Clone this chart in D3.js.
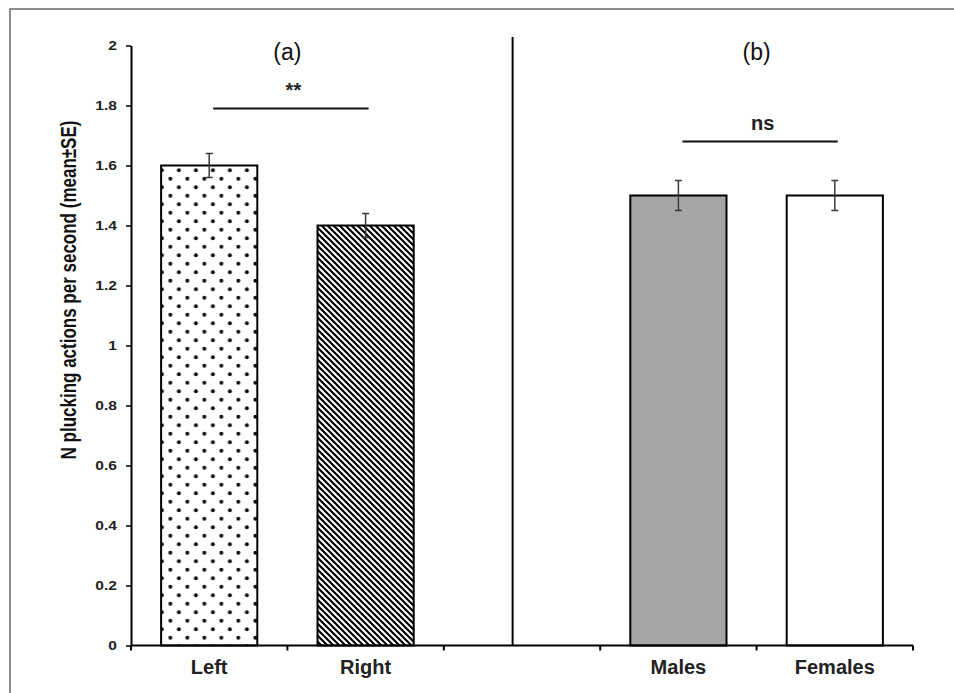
<!DOCTYPE html>
<html>
<head>
<meta charset="utf-8">
<script src="https://cdn.jsdelivr.net/npm/d3@7"></script>
<style>
  body { margin: 0; background: #fff; }
  text { font-family: "Liberation Sans", Arial, sans-serif; }
</style>
</head>
<body>
<div id="chart"></div>
<script>
const categories = ["Left", "Right", "", "Males", "Females"];
const means = [1.6, 1.4, null, 1.5, 1.5];
const errors = [0.04, 0.04, null, 0.05, 0.05];
const fills = ["url(#dots)", "url(#stripes)", null, "#a6a6a6", "#ffffff"];
const yTicks = [0, 0.2, 0.4, 0.6, 0.8, 1, 1.2, 1.4, 1.6, 1.8, 2];
const panelLabels = [{ text: "(a)", cat: "Left", to: "Right" }, { text: "(b)", cat: "Males", to: "Females" }];
const sigLabels = [
  { text: "**", from: "Left", to: "Right", value: 1.79 },
  { text: "ns", from: "Males", to: "Females", value: 1.68 }
];

const width = 954, height = 693;
const margin = { top: 45.5, right: 41, bottom: 47.5, left: 131 };

const svg = d3.select("#chart")
  .append("svg")
  .attr("width", width)
  .attr("height", height)
  .attr("viewBox", `0 0 ${width} ${height}`);

const defs = svg.append("defs");

const x = d3.scaleBand()
  .domain(categories)
  .range([margin.left, width - margin.right])
  .padding(0);

const y = d3.scaleLinear()
  .domain([0, 2])
  .range([height - margin.bottom, margin.top]);

const barW = x.bandwidth() * 0.615;
const barX = d => x(d) + (x.bandwidth() - barW) / 2;

// patterns
const dots = defs.append("pattern")
  .attr("id", "dots")
  .attr("patternUnits", "userSpaceOnUse")
  .attr("width", 17).attr("height", 17)
  .attr("x", barX("Left") - 3.5)
  .attr("y", y(1.6) + 0.5);
dots.append("rect").attr("width", 17).attr("height", 17).attr("fill", "#fff");
dots.append("circle").attr("cx", 4.25).attr("cy", 4.25).attr("r", 1.9).attr("fill", "#000");
dots.append("circle").attr("cx", 12.75).attr("cy", 12.75).attr("r", 1.9).attr("fill", "#000");

const stripes = defs.append("pattern")
  .attr("id", "stripes")
  .attr("patternUnits", "userSpaceOnUse")
  .attr("width", 6).attr("height", 6);
stripes.append("rect").attr("width", 6).attr("height", 6).attr("fill", "#fff");
stripes.append("path")
  .attr("d", "M-1,-1 L7,7 M-4,2 L2,8 M4,-2 L8,2")
  .attr("stroke", "#000")
  .attr("stroke-width", 2.1);

// frame (top and left only, the rest is cropped)
svg.append("path")
  .attr("d", `M10,${height} L10,9 L${width},9`)
  .attr("fill", "none")
  .attr("stroke", "#666")
  .attr("stroke-width", 1.5);

// bars
const data = categories.map((c, i) => ({ cat: c, mean: means[i], se: errors[i], fill: fills[i] }))
  .filter(d => d.mean != null);

svg.append("g")
  .selectAll("rect")
  .data(data)
  .join("rect")
  .attr("x", d => barX(d.cat))
  .attr("y", d => y(d.mean))
  .attr("width", barW)
  .attr("height", d => y(0) - y(d.mean))
  .attr("fill", d => d.fill)
  .attr("stroke", "#000")
  .attr("stroke-width", 2);

// error bars
const eb = svg.append("g")
  .attr("stroke", "#3a3a3a")
  .attr("stroke-width", 1.5);
data.forEach(d => {
  const cx = x(d.cat) + x.bandwidth() / 2;
  eb.append("line").attr("x1", cx).attr("x2", cx).attr("y1", y(d.mean + d.se)).attr("y2", y(d.mean - d.se));
  eb.append("line").attr("x1", cx - 3.5).attr("x2", cx + 3.5).attr("y1", y(d.mean + d.se)).attr("y2", y(d.mean + d.se));
  eb.append("line").attr("x1", cx - 3.5).attr("x2", cx + 3.5).attr("y1", y(d.mean - d.se)).attr("y2", y(d.mean - d.se));
});

// y axis
const yAxis = svg.append("g")
  .attr("transform", `translate(${margin.left},0)`)
  .call(d3.axisLeft(y).tickValues(yTicks).tickSize(5).tickSizeOuter(0).tickPadding(9)
    .tickFormat(d => String(+d.toFixed(1))));
yAxis.select(".domain").attr("stroke-width", 2);
yAxis.selectAll(".tick line").attr("stroke-width", 1.5);
// labels in the original look horizontally stretched
yAxis.selectAll(".tick text")
  .attr("x", null)
  .attr("transform", "translate(-14,0) scale(1.3,1)")
  .attr("font-size", 12)
  .attr("font-weight", "bold")
  .attr("fill", "#222");

// x axis: ticks at band boundaries
const xg = svg.append("g");
const bounds = categories.map(c => x(c)).concat([x.range()[1]]);
xg.append("line")
  .attr("x1", x.range()[0]).attr("x2", x.range()[1])
  .attr("y1", y(0)).attr("y2", y(0))
  .attr("stroke", "#000").attr("stroke-width", 2);
xg.selectAll(".xt")
  .data(bounds)
  .join("line")
  .attr("x1", d => d).attr("x2", d => d)
  .attr("y1", y(0)).attr("y2", y(0) + 5)
  .attr("stroke", "#000").attr("stroke-width", 2);
xg.selectAll("text")
  .data(categories.filter(c => c))
  .join("text")
  .attr("x", d => x(d) + x.bandwidth() / 2)
  .attr("y", y(0) + 28.5)
  .attr("text-anchor", "middle")
  .attr("font-size", 20)
  .attr("font-weight", "bold")
  .attr("fill", "#222")
  .text(d => d);

// y title
svg.append("text")
  .attr("transform", `translate(76,290) rotate(-90) scale(1,1.3)`)
  .attr("text-anchor", "middle")
  .attr("font-size", 17)
  .attr("font-weight", "bold")
  .attr("fill", "#111")
  .text("N plucking actions per second (mean±SE)");

// divider between panels
const divX = x("") + x.bandwidth() * 0.44;
svg.append("line")
  .attr("x1", divX).attr("x2", divX)
  .attr("y1", 37).attr("y2", y(0))
  .attr("stroke", "#000").attr("stroke-width", 2);

// panel labels
svg.selectAll(".panel")
  .data(panelLabels)
  .join("text")
  .attr("x", d => (x(d.cat) + x(d.to) + x.bandwidth()) / 2)
  .attr("y", 60)
  .attr("text-anchor", "middle")
  .attr("font-size", 23)
  .attr("fill", "#111")
  .text(d => d.text);

// significance lines
sigLabels.forEach(s => {
  const x1 = x(s.from) + x.bandwidth() / 2;
  const x2 = x(s.to) + x.bandwidth() / 2;
  svg.append("line")
    .attr("x1", x1 + 4).attr("x2", x2 + 3)
    .attr("y1", y(s.value)).attr("y2", y(s.value))
    .attr("stroke", "#111").attr("stroke-width", 2.2);
  svg.append("text")
    .attr("x", (x1 + x2) / 2 + 6)
    .attr("y", y(s.value) - 12)
    .attr("text-anchor", "middle")
    .attr("font-size", 20)
    .attr("font-weight", "bold")
    .attr("fill", "#222")
    .text(s.text);
});
</script>
</body>
</html>
